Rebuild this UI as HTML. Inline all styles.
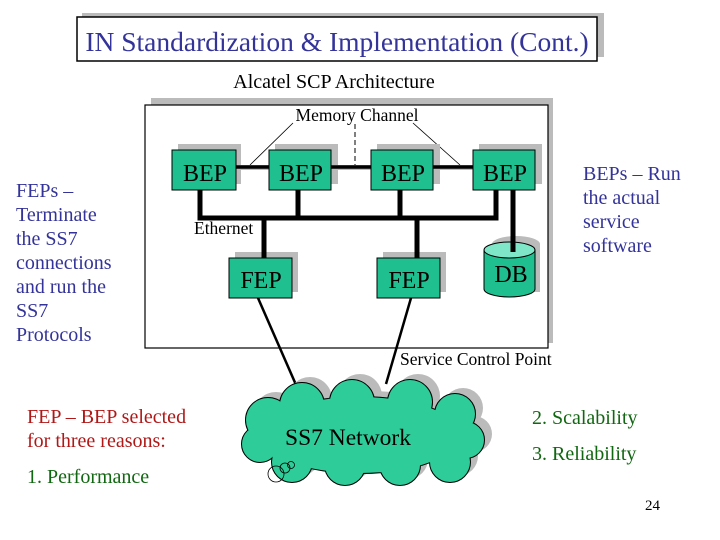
<!DOCTYPE html>
<html><head><style>
body{margin:0;background:#fff;}
svg{display:block;font-family:"Liberation Serif",serif;}
</style></head><body>
<svg width="720" height="540" viewBox="0 0 720 540">
<defs>
<g id="cl">
<circle cx="268" cy="420" r="22"/><circle cx="302" cy="405" r="22"/><circle cx="352" cy="402" r="22"/>
<circle cx="410" cy="402" r="22"/><circle cx="455" cy="414" r="20"/><circle cx="466" cy="440" r="18"/>
<circle cx="450" cy="462" r="20"/><circle cx="400" cy="465" r="20"/><circle cx="345" cy="465" r="20"/>
<circle cx="292" cy="462" r="20"/><circle cx="260" cy="444" r="18"/>
<ellipse cx="360" cy="435" rx="100" ry="38"/>
</g>
</defs>
<!-- title -->
<rect x="82" y="13" width="522" height="44" fill="#bbb"/>
<rect x="77" y="17" width="520" height="44" fill="#fff" stroke="#000" stroke-width="1.5"/>
<text x="337" y="51" font-size="27.5" fill="#333399" text-anchor="middle">IN Standardization &amp; Implementation (Cont.)</text>
<text x="334" y="88" font-size="20" text-anchor="middle">Alcatel SCP Architecture</text>
<!-- main box -->
<rect x="151" y="98" width="402" height="245" fill="#bbb"/>
<rect x="145" y="105" width="403" height="243" fill="#fff" stroke="#000" stroke-width="1.2"/>
<text x="357" y="121" font-size="17.5" text-anchor="middle">Memory Channel</text>
<line x1="355" y1="124" x2="355" y2="167" stroke="#000" stroke-dasharray="5,3"/>
<line x1="293" y1="123" x2="250" y2="165" stroke="#000" stroke-width="0.8"/>
<line x1="413" y1="123" x2="460" y2="165" stroke="#000" stroke-width="0.8"/>
<g fill="#bbb">
<rect x="178" y="144" width="63" height="40"/>
<rect x="275" y="144" width="63" height="40"/>
<rect x="377" y="144" width="63" height="40"/>
<rect x="479" y="144" width="63" height="40"/>
<rect x="235" y="252" width="63" height="40"/>
<rect x="383" y="252" width="63" height="40"/>
<ellipse cx="516" cy="244" rx="24" ry="8"/>
<rect x="492" y="244" width="48" height="48"/>
</g>
<rect x="236" y="165" width="240" height="5" fill="#bbb"/>
<line x1="236" y1="167" x2="473" y2="167" stroke="#000" stroke-width="3.5"/>
<g stroke="#000" stroke-width="5" fill="none">
<polyline points="200,190 200,218 496,218 496,190"/>
<line x1="298" y1="190" x2="298" y2="218"/>
<line x1="400" y1="190" x2="400" y2="218"/>
<line x1="264" y1="218" x2="264" y2="258"/>
<line x1="417" y1="218" x2="417" y2="258"/>
</g>
<text x="194" y="234" font-size="17.5">Ethernet</text>
<g fill="#1fbf90" stroke="#000" stroke-width="1">
<rect x="172" y="150" width="64" height="40"/>
<rect x="269" y="150" width="62" height="40"/>
<rect x="371" y="150" width="62" height="40"/>
<rect x="473" y="150" width="62" height="40"/>
<rect x="229" y="258" width="63" height="40"/>
<rect x="377" y="258" width="63" height="40"/>
</g>
<path d="M484,250 L484,289 A25.5,8 0 0 0 535,289 L535,250" fill="#1fbf90" stroke="#000"/>
<ellipse cx="509.5" cy="250" rx="25.5" ry="8" fill="#7fe6c8" stroke="#000"/>
<line x1="513" y1="190" x2="513" y2="252" stroke="#000" stroke-width="5"/>
<g font-size="24" text-anchor="middle">
<text x="205" y="181">BEP</text>
<text x="301" y="181">BEP</text>
<text x="403" y="181">BEP</text>
<text x="505" y="181">BEP</text>
<text x="261" y="288">FEP</text>
<text x="409" y="288">FEP</text>
<text x="511" y="282">DB</text>
</g>
<text x="400" y="365" font-size="17.5">Service Control Point</text>
<line x1="258" y1="298" x2="300" y2="394" stroke="#000" stroke-width="2.5"/>
<line x1="411" y1="298" x2="386" y2="384" stroke="#000" stroke-width="2.5"/>
<!-- cloud -->
<use href="#cl" transform="translate(8,-6)" fill="#bbb"/>
<use href="#cl" fill="#000" stroke="#000" stroke-width="2"/>
<use href="#cl" fill="#2ecc99"/>
<g fill="none" stroke="#000" stroke-width="0.8">
<circle cx="276" cy="474" r="8"/><circle cx="285" cy="468" r="5"/><circle cx="291" cy="465" r="3.5"/>
</g>
<text x="348" y="445" font-size="23.5" text-anchor="middle">SS7 Network</text>
<g font-size="20" fill="#333399">
<text x="16" y="197">FEPs –</text>
<text x="16" y="221">Terminate</text>
<text x="16" y="245">the SS7</text>
<text x="16" y="269">connections</text>
<text x="16" y="293">and run the</text>
<text x="16" y="317">SS7</text>
<text x="16" y="341">Protocols</text>
<text x="583" y="180">BEPs – Run</text>
<text x="583" y="204">the actual</text>
<text x="583" y="228">service</text>
<text x="583" y="252">software</text>
</g>
<g font-size="20" fill="#b01818">
<text x="27" y="423">FEP – BEP selected</text>
<text x="27" y="447">for three reasons:</text>
</g>
<g font-size="20" fill="#116611">
<text x="27" y="483">1. Performance</text>
<text x="532" y="424">2. Scalability</text>
<text x="532" y="460">3. Reliability</text>
</g>
<text x="645" y="510" font-size="15">24</text>
</svg>
</body></html>
